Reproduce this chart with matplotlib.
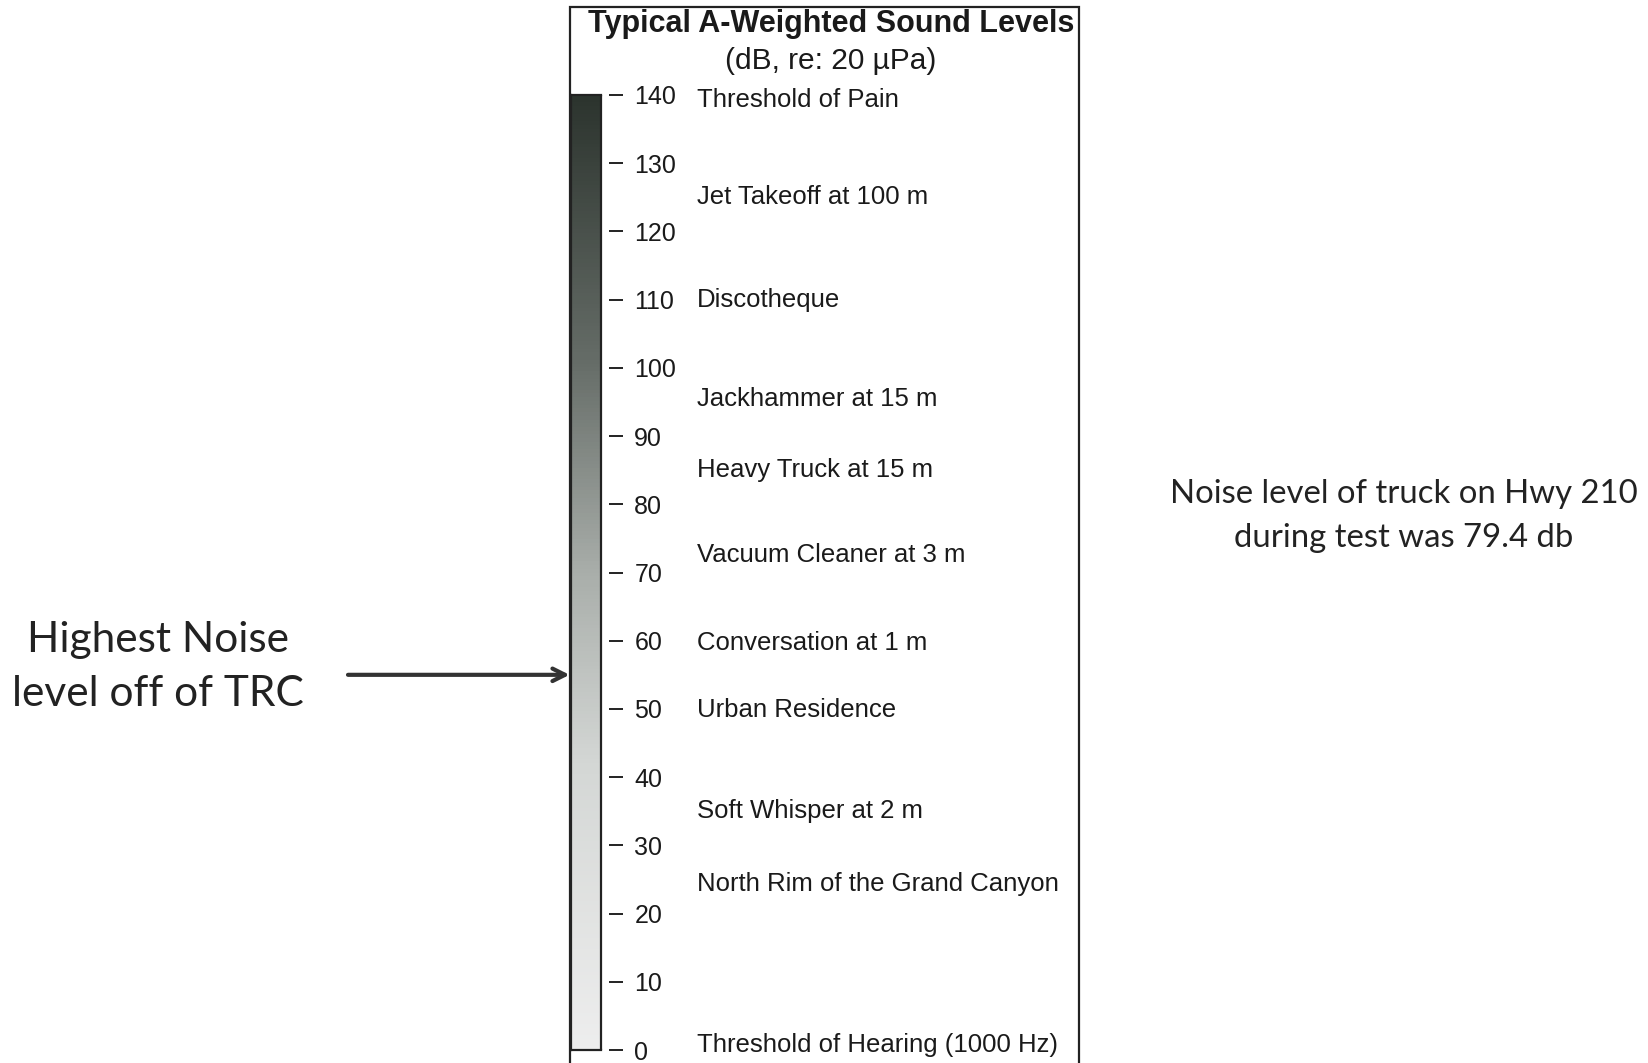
import numpy as np
import matplotlib
matplotlib.use('Agg')
import matplotlib.pyplot as plt
import matplotlib.transforms as mtransforms
from matplotlib.colors import LinearSegmentedColormap
from matplotlib.patches import Rectangle

# scale ticks (dB)
tick_levels = [0, 10, 20, 30, 40, 50, 60, 70, 80, 90, 100, 110, 120, 130, 140]

# typical sources and their level on the scale
source_names = ['Threshold of Pain', 'Jet Takeoff at 100 m', 'Discotheque',
                'Jackhammer at 15 m', 'Heavy Truck at 15 m', 'Vacuum Cleaner at 3 m',
                'Conversation at 1 m', 'Urban Residence', 'Soft Whisper at 2 m',
                'North Rim of the Grand Canyon', 'Threshold of Hearing (1000 Hz)']
source_levels = [139.3, 125, 110, 95.5, 85, 72.5, 59.6, 49.8, 35, 24.3, 0.8]

# highest noise level measured off of TRC (where the arrow points)
trc_level = 55

W, H = 1648, 1063
fig = plt.figure(figsize=(W / 100, H / 100), dpi=100)
fig.patch.set_facecolor('white')

def px(x0, y_top, x1, y_bot):
    # figure-pixel box (origin top-left) -> fig fraction rect
    return [x0 / W, 1 - y_bot / H, (x1 - x0) / W, (y_bot - y_top) / H]

# frame around the scale (bottom runs off the page)
fig.add_artist(Rectangle((570 / W, -0.05), (1079 - 570) / W, 1 - 7 / H + 0.05,
                         transform=fig.transFigure, fill=False, lw=1.6, ec='#222222'))

fig.text(831 / W, 1 - 24 / H, 'Typical A-Weighted Sound Levels', ha='center', va='center',
         fontsize=22, fontweight='bold', family='Liberation Sans', color='#1a1a1a')
fig.text(831 / W, 1 - 61 / H, '(dB, re: 20 \u00b5Pa)', ha='center', va='center',
         fontsize=21.5, family='Liberation Sans', color='#1a1a1a')

ax = fig.add_axes(px(571, 95, 601, 1050))
cmap = LinearSegmentedColormap.from_list('bar', [(0.0, '#eeeeee'), (0.3, '#d4d7d5'),
                                                 (0.5, '#a9aeaa'), (0.72, '#666d68'),
                                                 (1.0, '#2c342e')])
grad = np.linspace(tick_levels[0], tick_levels[-1], 256).reshape(-1, 1)
ax.imshow(grad, extent=(0, 1, tick_levels[0], tick_levels[-1]), origin='lower',
          aspect='auto', cmap=cmap)
ax.set_xlim(0, 1)
ax.set_ylim(tick_levels[0], tick_levels[-1])
for s in ['left', 'top', 'bottom']:
    ax.spines[s].set_linewidth(1.6)
    ax.spines[s].set_color('#222222')
ax.spines['right'].set_position(('outward', 6))
ax.spines['right'].set_visible(False)
ax.add_patch(Rectangle((1, 0), 0, 1, transform=ax.transAxes, fill=False, lw=1.6,
                       ec='#222222', clip_on=False))
ax.set_xticks([])
ax.yaxis.tick_right()
ax.set_yticks(tick_levels)
ax.tick_params(axis='y', direction='out', length=10, width=1.4, pad=8, color='#222222',
               labelsize=18, labelcolor='#1a1a1a', left=False, right=True)
for lab in ax.get_yticklabels():
    lab.set_family('Liberation Sans')

trans = mtransforms.blended_transform_factory(fig.transFigure, ax.transData)
for name, lvl in zip(source_names, source_levels):
    ax.text(697 / W, lvl, name, transform=trans, ha='left', va='center',
            fontsize=18.5, family='Liberation Sans', color='#1a1a1a', clip_on=False)

# side notes
fig.text(158 / W, 1 - 667 / H, 'Highest Noise\nlevel off of TRC', ha='center', va='center',
         fontsize=30.5, family='Lato', color='#222222', linespacing=1.52)
fig.text(1404 / W, 1 - 516 / H, 'Noise level of truck on Hwy 210\nduring test was 79.4 db',
         ha='center', va='center', fontsize=23.7, family='Lato', color='#222222',
         linespacing=1.55)

ax.annotate('', xy=(0, trc_level), xycoords=('axes fraction', 'data'),
            xytext=(348 / W, trc_level), textcoords=('figure fraction', 'data'),
            arrowprops=dict(arrowstyle='->,head_length=0.9,head_width=0.45', lw=3,
                            color='#333333', shrinkA=0, shrinkB=1))

fig.savefig('out.png', dpi=100, facecolor='white')
